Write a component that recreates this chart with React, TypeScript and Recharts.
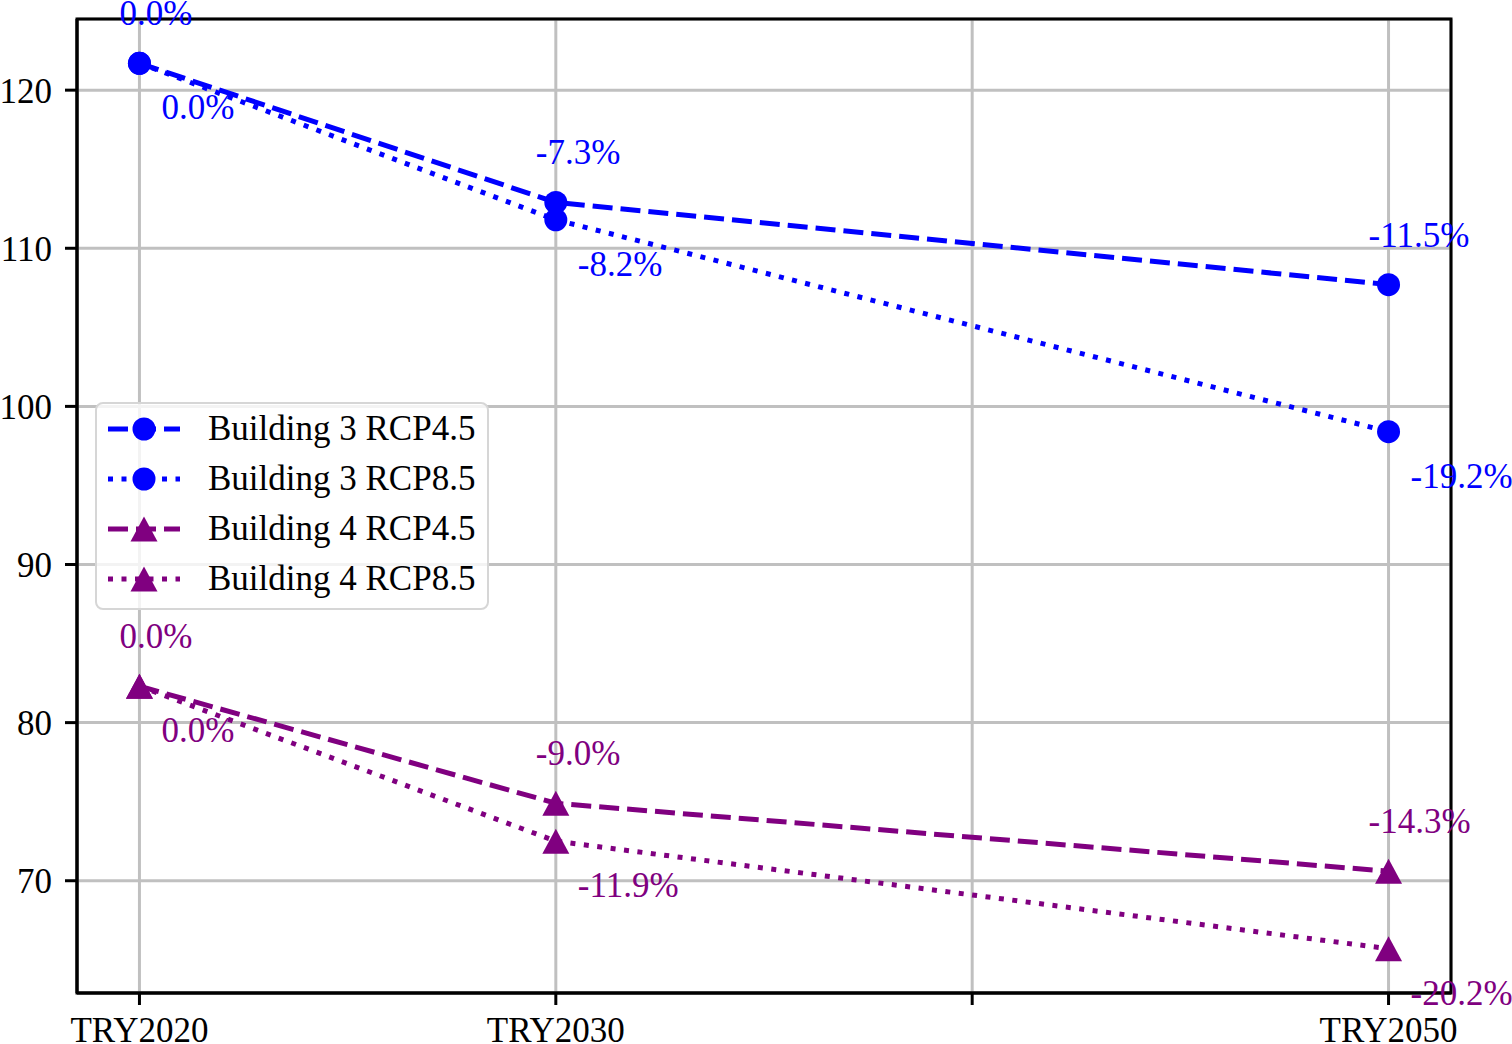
import React from 'react'
import { LineChart, Line, XAxis, YAxis, CartesianGrid, Legend, LabelList, ReferenceArea } from 'recharts'

const years = [2020, 2030, 2050]
const b3Rcp45 = [121.7, 112.9, 107.7]
const b3Rcp85 = [121.7, 111.8, 98.4]
const b4Rcp45 = [82.3, 74.9, 70.6]
const b4Rcp85 = [82.3, 72.5, 65.7]
const b3Rcp45Pct = ['0.0%', '-7.3%', '-11.5%']
const b3Rcp85Pct = ['0.0%', '-8.2%', '-19.2%']
const b4Rcp45Pct = ['0.0%', '-9.0%', '-14.3%']
const b4Rcp85Pct = ['0.0%', '-11.9%', '-20.2%']
const xTicks = [2020, 2030, 2040, 2050]
const xTickLabels = ['TRY2020', 'TRY2030', '', 'TRY2050']
const yTicks = [70, 80, 90, 100, 110, 120]

const X_DOMAIN: [number, number] = [2018.5, 2051.5]
const Y_DOMAIN: [number, number] = [62.9, 124.5]

const FONT = '"Liberation Serif", "Times New Roman", serif'
const FS = 35
const BLUE = '#0000ff'
const PURPLE = '#800080'
const DASHED = '20 8'
const DOTTED = '5 8.5'

const data = years.map((year, i) => ({
  year,
  b3r45: b3Rcp45[i],
  b3r85: b3Rcp85[i],
  b4r45: b4Rcp45[i],
  b4r85: b4Rcp85[i],
  b3r45Pct: b3Rcp45Pct[i],
  b3r85Pct: b3Rcp85Pct[i],
  b4r45Pct: b4Rcp45Pct[i],
  b4r85Pct: b4Rcp85Pct[i],
}))

const series = [
  { key: 'b3r45', name: 'Building 3 RCP4.5', color: BLUE, dash: DASHED, marker: 'circle', above: true },
  { key: 'b3r85', name: 'Building 3 RCP8.5', color: BLUE, dash: DOTTED, marker: 'circle', above: false },
  { key: 'b4r45', name: 'Building 4 RCP4.5', color: PURPLE, dash: DASHED, marker: 'triangle', above: true },
  { key: 'b4r85', name: 'Building 4 RCP8.5', color: PURPLE, dash: DOTTED, marker: 'triangle', above: false },
]

function Marker({ cx, cy, color, shape }: { cx: number; cy: number; color: string; shape: string }) {
  if (shape === 'circle') return <circle cx={cx} cy={cy} r={11.5} fill={color} />
  return (
    <polygon
      points={`${cx},${cy - 12.5} ${cx - 13.5},${cy + 12.5} ${cx + 13.5},${cy + 12.5}`}
      fill={color}
    />
  )
}

function LegendBox() {
  return (
    <div
      style={{
        width: 394,
        height: 208,
        boxSizing: 'border-box',
        border: '2px solid #d6d6d6',
        borderRadius: 8,
        background: 'rgba(255,255,255,0.8)',
        fontFamily: FONT,
        fontSize: FS,
        color: '#000',
      }}
    >
      {series.map(s => (
        <div key={s.key} style={{ height: 50, display: 'flex', alignItems: 'center' }}>
          <svg width={72} height={50} style={{ marginLeft: 11, flex: 'none' }}>
            <line x1={0} y1={25} x2={72} y2={25} stroke={s.color} strokeWidth={5} strokeDasharray={s.dash} />
            <Marker cx={36} cy={25} color={s.color} shape={s.marker} />
          </svg>
          <span style={{ marginLeft: 28, whiteSpace: 'nowrap' }}>{s.name}</span>
        </div>
      ))}
    </div>
  )
}

export default function App() {
  const tickStyle = { fontFamily: FONT, fontSize: FS, fill: '#000' }
  return (
    <div style={{ position: 'absolute', left: 0, top: 0, width: 1512, height: 1044, background: '#fff' }}>
      <LineChart width={1512} height={1044} data={data} margin={{ top: 19, right: 61, left: 0, bottom: 0 }}>
        <CartesianGrid stroke="#c0c0c0" strokeWidth={3} />
        <XAxis
          dataKey="year"
          type="number"
          domain={X_DOMAIN}
          ticks={xTicks}
          tickFormatter={v => xTickLabels[xTicks.indexOf(v)] ?? ''}
          height={51}
          tick={tickStyle}
          tickSize={12}
          tickMargin={12}
          tickLine={{ stroke: '#000', strokeWidth: 3 }}
          axisLine={{ stroke: '#000', strokeWidth: 3 }}
          interval={0}
          allowDataOverflow
        />
        <YAxis
          type="number"
          domain={Y_DOMAIN}
          ticks={yTicks}
          width={77}
          tick={tickStyle}
          tickSize={12}
          tickMargin={13}
          tickLine={{ stroke: '#000', strokeWidth: 3 }}
          axisLine={{ stroke: '#000', strokeWidth: 3 }}
          interval={0}
          allowDataOverflow
        />
        <ReferenceArea
          x1={X_DOMAIN[0]}
          x2={X_DOMAIN[1]}
          y1={Y_DOMAIN[0]}
          y2={Y_DOMAIN[1]}
          fill="none"
          stroke="#000"
          strokeWidth={3}
          ifOverflow="visible"
        />
        {series.map(s => (
          <Line
            key={s.key}
            type="linear"
            dataKey={s.key}
            name={s.name}
            stroke={s.color}
            strokeWidth={5}
            strokeDasharray={s.dash}
            isAnimationActive={false}
            dot={(p: any) => <Marker key={`${s.key}-${p.index}`} cx={p.cx} cy={p.cy} color={s.color} shape={s.marker} />}
            activeDot={false}
          >
            <LabelList
              dataKey={`${s.key}Pct`}
              content={(p: any) => (
                <text
                  x={p.x + (s.above ? -20 : 22)}
                  y={p.y + (s.above ? -38 : 56)}
                  fill={s.color}
                  fontFamily={FONT}
                  fontSize={FS}
                  textAnchor="start"
                >
                  {p.value}
                </text>
              )}
            />
          </Line>
        ))}
        <Legend
          layout="vertical"
          align="center"
          verticalAlign="middle"
          content={() => <LegendBox />}
          wrapperStyle={{ left: 95, top: 402, width: 394, height: 208 }}
        />
      </LineChart>
    </div>
  )
}
